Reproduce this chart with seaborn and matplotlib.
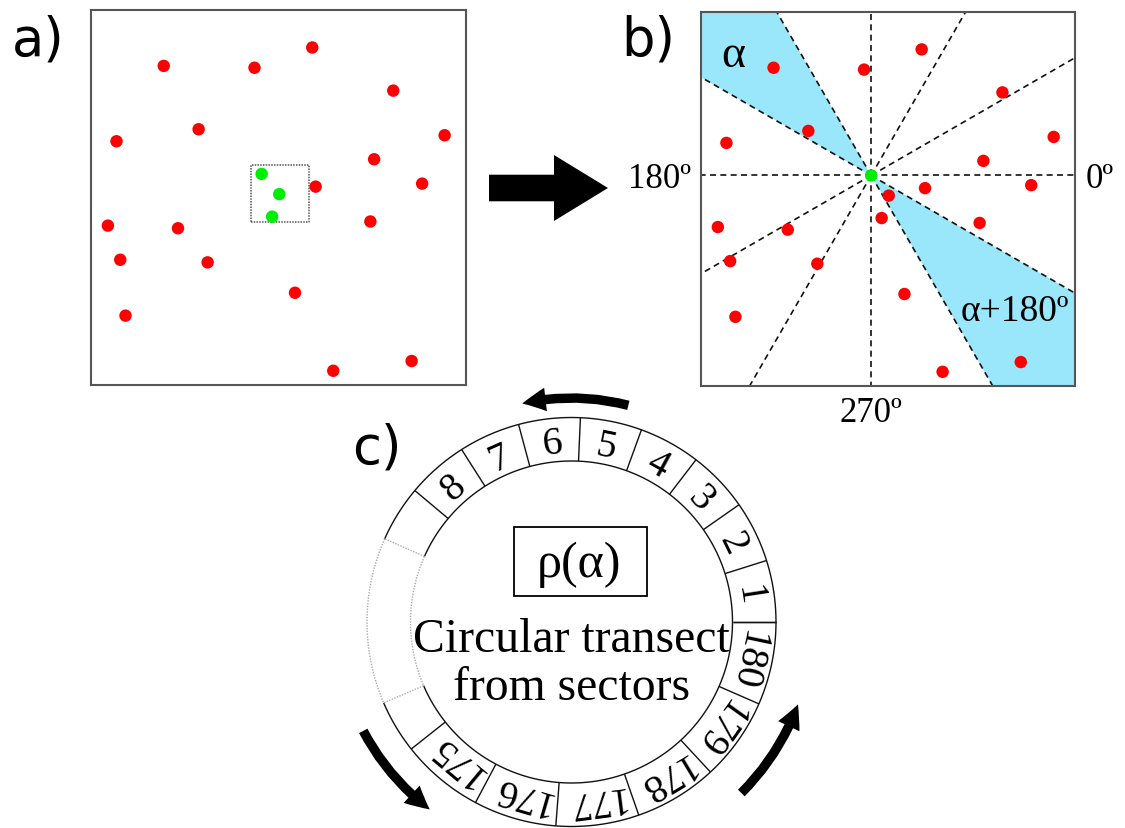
import numpy as np
import pandas as pd
import matplotlib
matplotlib.use("Agg")
import matplotlib.pyplot as plt
from matplotlib.patches import FancyArrow, FancyArrowPatch, Rectangle
import seaborn as sns

# ---------------------------------------------------------------
# Point pattern, coordinates in percent of the study window side
# ---------------------------------------------------------------
pts_x = [59.0, 19.4, 43.6, 80.6, 28.7, 6.8, 94.3, 75.5, 59.9, 88.3, 4.5,
         23.2, 74.5, 7.8, 31.1, 54.4, 9.2, 85.5, 64.6, 45.5, 50.2, 48.3]
pts_y = [90.0, 85.1, 84.6, 78.5, 68.2, 65.0, 66.6, 60.2, 52.9, 53.7, 42.5,
         41.8, 43.6, 33.4, 32.7, 24.6, 18.5, 6.4, 3.8, 56.3, 50.9, 44.9]
focal = 19                      # point used as the centre of the sectors
neighbours = [19, 20, 21]       # points inside the moving window
window = [42.6, 58.1, 43.4, 58.7]   # x0, x1, y0, y1 of the moving window

# sector directions (degrees) and the highlighted sector pair
sector_angles = list(range(0, 360, 30))
sector_pair = [(120, 150), (300, 330)]
direction_labels = {0: "0º", 180: "180º", 270: "270º"}

# ring of sectors for the circular transect
ring_top = ["1", "2", "3", "4", "5", "6", "7", "8"]
ring_bottom = ["180", "179", "178", "177", "176", "175"]

# ---------------------------------------------------------------
sns.set_theme(style="white")
plt.rcParams["font.family"] = ["Liberation Serif", "DejaVu Serif"]
plt.rcParams["text.color"] = "black"

W, H = 1125, 829
fig = plt.figure(figsize=(W / 100, H / 100), dpi=100)
fig.patch.set_facecolor("white")

# full-figure layer in pixel units (y down) for annotations
ax0 = fig.add_axes([0, 0, 1, 1])
ax0.set_xlim(0, W)
ax0.set_ylim(H, 0)
ax0.axis("off")


def panel_axes(left, top, size):
    return fig.add_axes([left / W, 1 - (top + size) / H, size / W, size / H])


def finish_panel(ax):
    ax.set_xlim(0, 100)
    ax.set_ylim(0, 100)
    ax.set_xticks([])
    ax.set_yticks([])
    ax.set_xlabel("")
    ax.set_ylabel("")
    for sp in ax.spines.values():
        sp.set_visible(True)
        sp.set_color("#555555")
        sp.set_linewidth(1.5)


df = pd.DataFrame({"x": pts_x, "y": pts_y})
df["in_window"] = np.where(df.index.isin(neighbours), "in", "out")
df["centre"] = np.where(df.index == focal, "in", "out")
palette = {"in": "#00ee00", "out": "#ff0000"}

# ---------------- panel a: point pattern with moving window -----
ax_a = panel_axes(91, 11, 375)
sns.scatterplot(data=df, x="x", y="y", hue="in_window", palette=palette,
                s=80, linewidth=0, legend=False, ax=ax_a, zorder=3)
x0, x1, y0, y1 = window
ax_a.plot([x0, x1, x1, x0, x0], [y0, y0, y1, y1, y0], color="#555555",
          lw=1.1, ls=(0, (1, 0.8)), zorder=2)
finish_panel(ax_a)

# ---------------- panel b: sectors around the focal point -------
ax_b = panel_axes(701, 13, 374)
fx, fy = pts_x[focal], pts_y[focal]
far = 300
for a1, a2 in sector_pair:
    t1, t2 = np.radians(a1), np.radians(a2)
    ax_b.fill([fx, fx + far * np.cos(t1), fx + far * np.cos(t2)],
              [fy, fy + far * np.sin(t1), fy + far * np.sin(t2)],
              color="#9ae6fa", lw=0, zorder=1)
for a in sector_angles:
    t = np.radians(a)
    ax_b.plot([fx, fx + far * np.cos(t)], [fy, fy + far * np.sin(t)],
              color="#111111", lw=1.2, ls=(0, (3.6, 2.6)), zorder=2)
sns.scatterplot(data=df, x="x", y="y", hue="centre", palette=palette,
                s=80, linewidth=0, legend=False, ax=ax_b, zorder=3)
finish_panel(ax_b)

ax_b.text(8.6, 88.5, "α", fontsize=33, ha="center", va="center")
ax_b.text(84, 20, "α+180º", fontsize=27, ha="center", va="center")
ax_b.annotate(direction_labels[180], xy=(0, fy), xytext=(-7, -8),
              textcoords="offset points", ha="right", va="baseline",
              fontsize=25, annotation_clip=False)
ax_b.annotate(direction_labels[0], xy=(100, fy), xytext=(8, -8),
              textcoords="offset points", ha="left", va="baseline",
              fontsize=25, annotation_clip=False)
ax_b.annotate(direction_labels[270], xy=(fx, 0), xytext=(0, -25),
              textcoords="offset points", ha="center", va="baseline",
              fontsize=25, annotation_clip=False)

# ---------------- arrow from a to b ------------------------------
ax0.add_patch(FancyArrow(489, 189, 119, 0, width=26.6, head_width=66,
                         head_length=54, length_includes_head=True,
                         color="black", lw=0))

# ---------------- panel c: ring of sectors -----------------------
cx, cy = 571.5, 623
r_in, r_out = 161, 204.5


def ring_pt(r, deg):
    t = np.radians(deg)
    return cx + r * np.cos(t), cy - r * np.sin(t)


def arc(r, d1, d2, **kw):
    th = np.linspace(d1, d2, 200)
    xs, ys = ring_pt(r, th)
    ax0.plot(xs, ys, **kw)


top_step, bot_step = 17.5, 23.6
gap_lo, gap_hi = 156, 203.3
solid = dict(color="#111111", lw=1.0, solid_capstyle="butt")
faint = dict(color="#aaaaaa", lw=1.0, ls=(0, (1, 1)))

for r in (r_in, r_out):
    arc(r, gap_hi - 360, gap_lo, **solid)
    arc(r, gap_lo, gap_hi, **faint)

top_edges = np.arange(len(ring_top) + 1) * top_step
bot_edges = -np.arange(len(ring_bottom) + 1) * bot_step
for e in np.concatenate([top_edges, bot_edges]):
    (xa, ya), (xb, yb) = ring_pt(r_in, e), ring_pt(r_out, e)
    ax0.plot([xa, xb], [ya, yb], **solid)
for e in (gap_lo, gap_hi):
    (xa, ya), (xb, yb) = ring_pt(r_in, e), ring_pt(r_out, e)
    ax0.plot([xa, xb], [ya, yb], **faint)

fs_ring = 28.5
digit_h = 0.66 * fs_ring * 100 / 72
r_base = (r_in + r_out) / 2 - digit_h / 2
mids = list(top_edges[:-1] + top_step / 2) + list(bot_edges[:-1] - bot_step / 2)
for lab, m in zip(ring_top + ring_bottom, mids):
    x, y = ring_pt(r_base, m)
    ax0.text(x, y, lab, fontsize=fs_ring, rotation=m - 90,
             rotation_mode="anchor", ha="center", va="baseline")

# rotation arrows around the ring
for t1, t2, R in [(75.3, 102.7, 224), (-45.2, -20, 241), (207.6, 232.9, 235)]:
    rad = np.tan(np.radians(t2 - t1) / 4)
    ax0.add_patch(FancyArrowPatch(
        ring_pt(R, t1), ring_pt(R, t2),
        connectionstyle=f"arc3,rad={rad:.4f}",
        arrowstyle="simple,head_length=1.7,head_width=1.7,tail_width=0.68",
        mutation_scale=10, color="black", lw=0, shrinkA=0, shrinkB=0))

ax0.add_patch(Rectangle((514, 528), 133, 69, fill=False, ec="black", lw=1.3))
ax0.text(579, 577, "ρ(α)", fontsize=36, ha="center", va="baseline")
ax0.text(571.7, 651.7, "Circular transect", fontsize=34.3, ha="center",
         va="baseline")
ax0.text(571.7, 700, "from sectors", fontsize=34.3, ha="center", va="baseline")

# panel letters
for lab, x, y in [("a)", 12, 55), ("b)", 621, 55), ("c)", 352, 463)]:
    ax0.text(x, y, lab, family="DejaVu Sans", fontsize=38, ha="left",
             va="baseline")

fig.savefig("out.png", dpi=100)
